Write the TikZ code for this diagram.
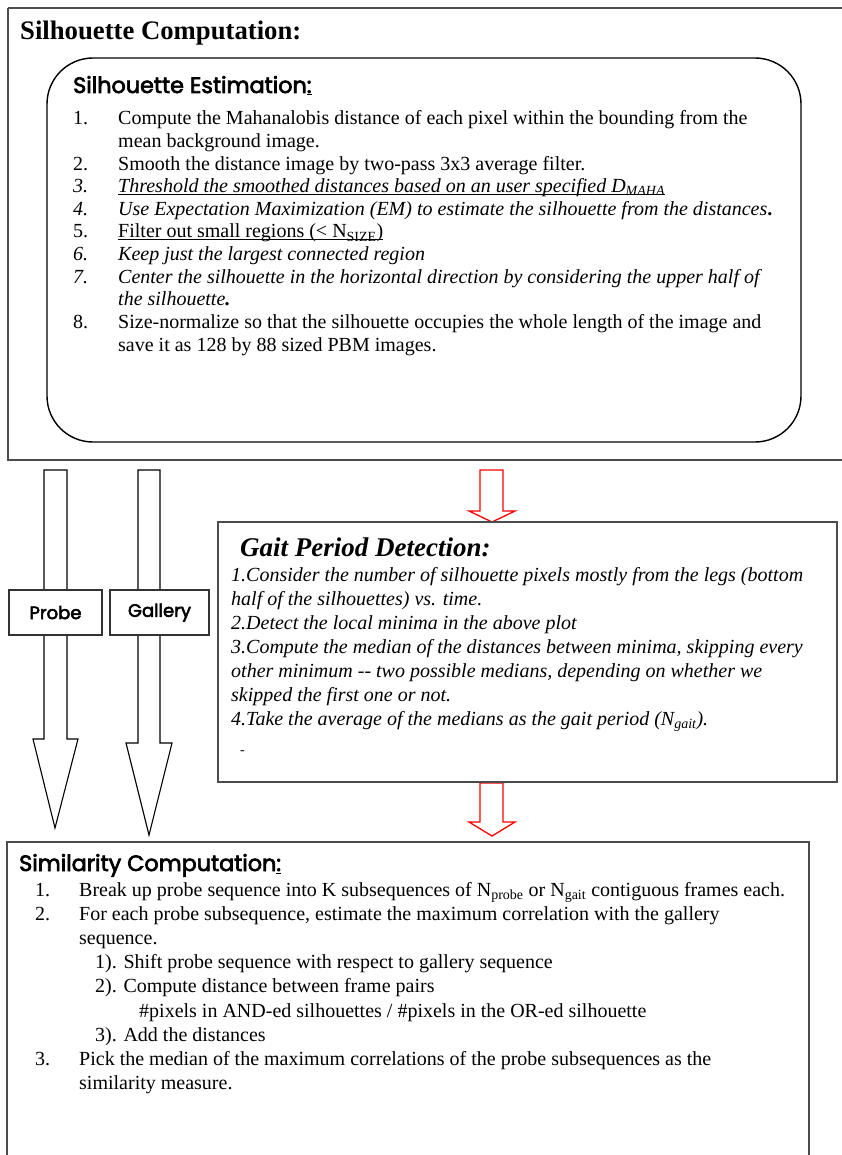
\documentclass[tikz,border=0pt]{standalone}
\usepackage{fontspec}
\setmainfont{Liberation Serif}
\newfontfamily\gothic[FakeBold=3]{Poppins}
\newcommand\myul[1]{\setbox0\hbox{#1}\rlap{\rule[-2.4pt]{\wd0}{0.9pt}}\box0}
\begin{document}
\begin{tikzpicture}[x=1pt,y=-1pt,
  txt/.style={anchor=base west, inner sep=0pt, font=\fontsize{20}{23}\selectfont},
  itx/.style={txt, font=\fontsize{20}{23}\selectfont\itshape},
  gtitle/.style={anchor=base west, inner sep=0pt, font=\fontsize{22.3}{24}\selectfont\gothic},
  frame/.style={draw=black!70, line width=1.8pt},
  blockarrow/.style={draw=black, line width=1.1pt, fill=white, line join=miter},
  redarrow/.style={draw=red, line width=1.3pt, fill=white, line join=miter},
  labelbox/.style={draw=black!80, line width=1.2pt, fill=white, minimum width=93pt, minimum height=45pt, inner sep=0pt, font=\fontsize{18}{20}\selectfont\gothic}
]
\useasboundingbox (0,0) rectangle (841,1155);
\fill[white] (0,0) rectangle (841,1155);

% ---------- Top box ----------
\draw[frame] (8,8) -- (848,8) (8,8) -- (8,460) -- (848,460);
\node[anchor=base west, inner sep=0pt, font=\fontsize{26.7}{30}\selectfont\bfseries] (ttl) at (20,40) {Silhouette Computation:};
\draw[black, line width=1.4pt, rounded corners=46pt] (47,58) rectangle (801,442);
\node[gtitle] (est) at (73,93) {Silhouette Estimation\myul{:}};

\node[txt] (n1) at (73,125) {1.};
\node[txt] (l1a) at (118,125) {Compute the Mahanalobis distance of each pixel within the bounding from the};
\node[txt] (l1b) at (118,147.6) {mean background image.};
\node[txt] (n2) at (73,170.2) {2.};
\node[txt] (l2) at (118,170.2) {Smooth the distance image by two-pass 3x3 average filter.};
\node[itx] (n3) at (73,192.8) {3.};
\node[itx] (l3) at (118,192.8) {\myul{Threshold the smoothed distances based on an user specified D\textsubscript{MAHA}}};
\node[itx] (n4) at (73,215.4) {4.};
\node[itx] (l4) at (118,215.4) {Use Expectation Maximization (EM) to estimate the silhouette from the distances\textup{\bfseries .}};
\node[txt] (n5) at (73,238) {5.};
\node[txt] (l5) at (118,238) {\myul{Filter out small regions (< N\textsubscript{SIZE})}};
\node[itx] (n6) at (73,260.6) {6.};
\node[itx] (l6) at (118,260.6) {Keep just the largest connected region};
\node[itx] (n7) at (73,283.2) {7.};
\node[itx] (l7a) at (118,283.2) {Center the silhouette in the horizontal direction by considering the upper half of};
\node[itx] (l7b) at (118,305.8) {the silhouette\textbf{.}};
\node[txt] (n8) at (73,328.4) {8.};
\node[txt] (l8a) at (118,328.4) {Size-normalize so that the silhouette occupies the whole length of the image and};
\node[txt] (l8b) at (118,351) {save it as 128 by 88 sized PBM images.};

% ---------- Probe / Gallery arrows ----------
\draw[blockarrow] (44,470) -- (67,470) -- (67,739) -- (78,739) -- (55,828) -- (33,739) -- (44,739) -- cycle;
\draw[blockarrow] (138,470) -- (160,470) -- (160,743) -- (172,743) -- (149,835) -- (126,743) -- (138,743) -- cycle;
\node[labelbox] (probe) at (55.5,612.5) {Probe};
\node[labelbox, minimum width=99pt] (gallery) at (159.5,612.5) {Gallery};

% ---------- Red arrows ----------
\draw[redarrow] (480,470) -- (503,470) -- (503,511) -- (515,511) -- (492,522) -- (469,511) -- (480,511) -- cycle;
\draw[redarrow] (480,783) -- (503,783) -- (503,822) -- (515,822) -- (492,836) -- (469,822) -- (480,822) -- cycle;

% ---------- Gait box ----------
\draw[frame, fill=white] (218,522) rectangle (837,782);
\node[anchor=base west, inner sep=0pt, font=\fontsize{27}{30}\selectfont\bfseries\itshape] (gait) at (240,556) {Gait Period Detection:};
\node[itx] (g1a) at (231,581) {1.Consider the number of silhouette pixels mostly from the legs (bottom};
\node[itx] (g1b) at (231,605) {half of the silhouettes) vs. time.};
\node[itx] (g2) at (231,629) {2.Detect the local minima in the above plot};
\node[itx] (g3a) at (231,653) {3.Compute the median of the distances between minima, skipping every};
\node[itx] (g3b) at (231,677) {other minimum -{}- two possible medians, depending on whether we};
\node[itx] (g3c) at (231,701) {skipped the first one or not.};
\node[itx] (g4) at (231,725) {4.Take the average of the medians as the gait period (N\textsubscript{gait}).};
\node[itx, font=\fontsize{14}{16}\selectfont] (gd) at (240,754) {-};

% ---------- Similarity box ----------
\draw[frame] (7,1170) -- (7,842) -- (809,842) -- (809,1170);
\node[gtitle] (sim) at (19,871) {Similarity Computation\myul{:}};
\node[txt] (s1n) at (35,896) {1.};
\node[txt] (s1) at (79,896) {Break up probe sequence into K subsequences of N\textsubscript{probe} or N\textsubscript{gait} contiguous frames each.};
\node[txt] (s2n) at (35,920) {2.};
\node[txt] (s2a) at (79,920) {For each probe subsequence, estimate the maximum correlation with the gallery};
\node[txt] (s2b) at (79,944) {sequence.};
\node[txt] (s21) at (95,968) {1). Shift probe sequence with respect to gallery sequence};
\node[txt] (s22) at (95,992) {2). Compute distance between frame pairs};
\node[txt] (s22b) at (139,1017) {\#pixels in AND-ed silhouettes / \#pixels in the OR-ed silhouette};
\node[txt] (s23) at (95,1041) {3). Add the distances};
\node[txt] (s3n) at (35,1065) {3.};
\node[txt] (s3a) at (79,1065) {Pick the median of the maximum correlations of the probe subsequences as the};
\node[txt] (s3b) at (79,1089) {similarity measure.};
\end{tikzpicture}
\end{document}
